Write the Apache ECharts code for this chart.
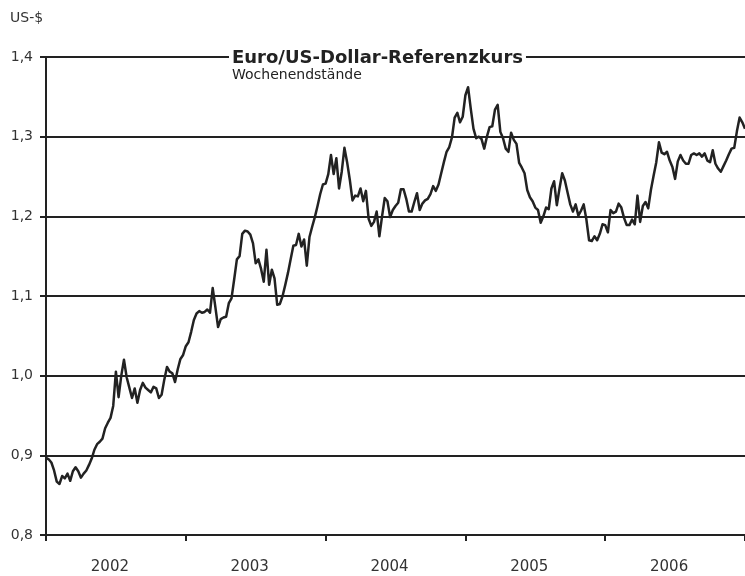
<!DOCTYPE html>
<html>
<head>
<meta charset="utf-8">
<script src="https://cdn.jsdelivr.net/npm/echarts@6/dist/echarts.min.js"></script>
<style>
html,body{margin:0;padding:0;background:#fff;}
#c{width:745px;height:576px;}
</style>
</head>
<body>
<div id="c"></div>
<script>
// Year labels (axis categories)
const years = ['2002', '2003', '2004', '2005', '2006'];

// Weekly Euro/US-Dollar reference rates (week-end values), one array per year
const rate2002 = [0.897,0.895,0.891,0.881,0.867,0.864,0.874,0.871,0.877,0.868,0.880,0.885,0.880,0.872,0.877,0.881,0.888,0.896,0.907,0.914,0.917,0.921,0.934,0.941,0.947,0.962,1.005,0.973,1.000,1.020,0.998,0.985,0.972,0.984,0.966,0.982,0.991,0.985,0.982,0.979,0.986,0.984,0.972,0.976,0.995,1.011,1.005,1.003,0.992,1.008,1.021,1.026];
const rate2003 = [1.037,1.042,1.055,1.070,1.078,1.081,1.079,1.080,1.083,1.079,1.110,1.086,1.061,1.071,1.073,1.074,1.091,1.097,1.121,1.146,1.150,1.178,1.182,1.181,1.177,1.166,1.141,1.146,1.134,1.118,1.158,1.114,1.133,1.122,1.089,1.090,1.100,1.114,1.129,1.146,1.163,1.164,1.178,1.162,1.171,1.138,1.174,1.187,1.199,1.213,1.228,1.240];
const rate2004 = [1.241,1.253,1.277,1.253,1.273,1.235,1.256,1.286,1.268,1.246,1.220,1.226,1.225,1.235,1.219,1.232,1.197,1.188,1.193,1.206,1.175,1.200,1.223,1.219,1.199,1.208,1.213,1.217,1.234,1.234,1.222,1.206,1.206,1.218,1.229,1.208,1.216,1.220,1.222,1.228,1.238,1.232,1.240,1.254,1.268,1.281,1.287,1.299,1.324,1.330,1.318,1.325,1.352];
const rate2005 = [1.362,1.335,1.310,1.298,1.300,1.297,1.285,1.300,1.312,1.313,1.334,1.340,1.306,1.298,1.285,1.281,1.305,1.296,1.291,1.267,1.261,1.254,1.233,1.224,1.219,1.211,1.208,1.192,1.200,1.211,1.209,1.235,1.244,1.214,1.235,1.254,1.245,1.230,1.215,1.206,1.215,1.201,1.207,1.215,1.196,1.170,1.169,1.175,1.170,1.178,1.190,1.189];
const rate2006 = [1.180,1.208,1.204,1.206,1.216,1.211,1.198,1.189,1.189,1.196,1.190,1.226,1.193,1.213,1.218,1.210,1.233,1.251,1.268,1.293,1.280,1.278,1.281,1.270,1.262,1.247,1.269,1.277,1.270,1.266,1.266,1.277,1.279,1.277,1.279,1.275,1.279,1.270,1.268,1.283,1.266,1.260,1.256,1.263,1.270,1.278,1.285,1.286,1.307,1.324,1.318,1.310];

// Y axis range / ticks
const yMin = 0.8, yMax = 1.4, yStep = 0.1;

const yearly = [rate2002, rate2003, rate2004, rate2005, rate2006];
const weeks = [];
const values = [];
yearly.forEach((arr, yi) => {
  arr.forEach((v, k) => { weeks.push(years[yi] + '-W' + (k + 1)); values.push(v); });
});

const FONT = 'DejaVu Sans';
const INK = '#222';
const chart = echarts.init(document.getElementById('c'), null, {renderer: 'canvas'});
chart.setOption({
  animation: false,
  backgroundColor: '#fff',
  textStyle: {fontFamily: FONT},
  title: [
    {
      text: 'Euro/US-Dollar-Referenzkurs',
      left: 229, top: 48,
      padding: [0, 3],
      backgroundColor: '#fff',
      textStyle: {fontFamily: FONT, fontSize: 18, fontWeight: 'bold', color: INK, lineHeight: 20}
    },
    {
      text: 'Wochenendstände',
      left: 232, top: 67,
      padding: 0,
      textStyle: {fontFamily: FONT, fontSize: 14, fontWeight: 'normal', color: INK, lineHeight: 16}
    },
    {
      text: 'US-$',
      left: 10, top: 10,
      padding: 0,
      textStyle: {fontFamily: FONT, fontSize: 14, fontWeight: 'normal', color: '#333', lineHeight: 16}
    }
  ],
  grid: {left: 46, right: 0, top: 57, bottom: 41, containLabel: false},
  xAxis: [
    {
      type: 'category', data: weeks, boundaryGap: false,
      axisLine: {show: false}, axisTick: {show: false}, axisLabel: {show: false}, splitLine: {show: false}
    },
    {
      type: 'category', data: years, boundaryGap: true, position: 'bottom',
      axisLine: {show: true, onZero: false, lineStyle: {color: INK, width: 2}},
      axisTick: {show: true, length: 6, inside: false, alignWithLabel: false, interval: 0, lineStyle: {color: INK, width: 2}},
      axisLabel: {show: true, margin: 25, fontSize: 15, color: '#333', fontFamily: FONT, padding: [0, 12, 0, 0]},
      splitLine: {show: false}
    }
  ],
  yAxis: {
    type: 'value', min: yMin, max: yMax, interval: yStep,
    axisLine: {show: true, onZero: false, lineStyle: {color: INK, width: 2}},
    axisTick: {show: true, length: 6, lineStyle: {color: INK, width: 2}},
    axisLabel: {margin: 13, fontSize: 14, color: '#333', fontFamily: FONT,
      formatter: v => v.toFixed(1).replace('.', ',')},
    splitLine: {show: true, lineStyle: {color: INK, width: 2}}
  },
  series: [{
    type: 'line', xAxisIndex: 0, yAxisIndex: 0, data: values,
    showSymbol: false, symbol: 'none',
    lineStyle: {color: INK, width: 2.5, join: 'round'},
    z: 3
  }]
});
</script>
</body>
</html>
